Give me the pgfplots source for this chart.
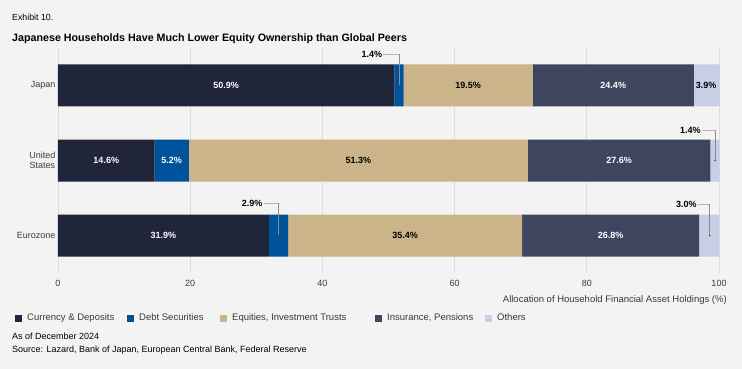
\documentclass[border=0pt]{standalone}
\usepackage{pgfplots}
\pgfplotsset{compat=1.18}
\usepackage{fontspec}
\setmainfont{Liberation Sans}
\definecolor{bg}{HTML}{F3F3F3}
\definecolor{ccurr}{HTML}{20253A}
\definecolor{cdebt}{HTML}{00529B}
\definecolor{ceq}{HTML}{CBB489}
\definecolor{cins}{HTML}{40455F}
\definecolor{coth}{HTML}{C8CEE6}
\definecolor{gridgray}{HTML}{DCDCDC}
\definecolor{txtgray}{HTML}{3A3A3A}
\definecolor{leadgray}{HTML}{B5B5B5}
\begin{document}
\begin{tikzpicture}[x=1pt,y=1pt,
  lw/.style={text=white, font=\fontsize{9}{10}\selectfont\bfseries},
  lb/.style={text=black, font=\fontsize{9}{10}\selectfont\bfseries},
  lc/.style={text=black, font=\fontsize{9}{10}\selectfont\bfseries, anchor=east, inner sep=1pt}]
\fill[bg] (0,0) rectangle (742,369);
\node[anchor=west, inner sep=0pt, font=\fontsize{8.8}{10}\selectfont] at (12,351.5) {Exhibit 10.};
\node[anchor=west, inner sep=0pt, font=\fontsize{10.7}{12}\selectfont\bfseries] at (12,330.5) {Japanese Households Have Much Lower Equity Ownership than Global Peers};
\begin{axis}[
  at={(58pt,96pt)}, anchor=south west, scale only axis,
  width=661pt, height=225pt,
  xbar stacked, bar width=42pt,
  xmin=0, xmax=100, ymin=-0.5, ymax=2.5, y dir=reverse,
  clip=false,
  ytick={0,1,2}, yticklabels={Japan,{United\\States},Eurozone},
  yticklabel style={align=center, font=\fontsize{9}{10.5}\selectfont, text=txtgray, xshift=1pt},
  xtick={0,20,40,60,80,100},
  xticklabel style={font=\fontsize{9}{10}\selectfont, text=txtgray, yshift=-4pt},
  /pgf/number format/assume math mode=true,
  xmajorgrids, major grid style={gridgray, line width=0.8pt},
  axis line style={draw=none}, major tick style={draw=none},
  legend style={at={(axis description cs:-0.0696,-0.2)}, anchor=west, draw=none, fill=none,
    legend columns=-1, font=\fontsize{9.5}{11}\selectfont, text=txtgray,
    /tikz/every even column/.append style={column sep=0pt},
    /tikz/every odd column/.append style={column sep=3pt}},
  legend image code/.code={\fill[#1] (0pt,-3.5pt) rectangle (7pt,3.5pt);},
]
\addplot[fill=ccurr, draw=none] coordinates {(50.9,0) (14.6,1) (31.9,2)};
\addlegendentry{\makebox[98pt][l]{Currency \& Deposits}}
\addplot[fill=cdebt, draw=none] coordinates {(1.4,0) (5.2,1) (2.9,2)};
\addlegendentry{\makebox[79pt][l]{Debt Securities}}
\addplot[fill=ceq, draw=none] coordinates {(19.5,0) (51.3,1) (35.4,2)};
\addlegendentry{\makebox[141pt][l]{Equities, Investment Trusts}}
\addplot[fill=cins, draw=none] coordinates {(24.4,0) (27.6,1) (26.8,2)};
\addlegendentry{\makebox[96pt][l]{Insurance, Pensions}}
\addplot[fill=coth, draw=none] coordinates {(3.9,0) (1.4,1) (3.0,2)};
\addlegendentry{Others}
% label anchors
\coordinate (a1) at (axis cs:25.45,0);
\coordinate (a2) at (axis cs:62.05,0);
\coordinate (a3) at (axis cs:84.0,0);
\coordinate (a4) at (axis cs:98.05,0);
\coordinate (b1) at (axis cs:7.3,1);
\coordinate (b2) at (axis cs:17.2,1);
\coordinate (b3) at (axis cs:45.45,1);
\coordinate (b4) at (axis cs:84.9,1);
\coordinate (c1) at (axis cs:15.95,2);
\coordinate (c3) at (axis cs:52.5,2);
\coordinate (c4) at (axis cs:83.6,2);
% callout anchors
\coordinate (p1) at (axis cs:49.2,-0.42);
\coordinate (q1) at (axis cs:51.6,-0.42);
\coordinate (r1) at (axis cs:51.6,0);
\coordinate (p2) at (axis cs:97.4,0.6);
\coordinate (q2) at (axis cs:99.4,0.6);
\coordinate (r2) at (axis cs:99.4,1);
\coordinate (p3) at (axis cs:31.1,1.567);
\coordinate (q3) at (axis cs:33.35,1.567);
\coordinate (r3) at (axis cs:33.35,2);
\coordinate (p4) at (axis cs:96.8,1.58);
\coordinate (q4) at (axis cs:98.6,1.58);
\coordinate (r4) at (axis cs:98.6,2);
\end{axis}
\node[lw] at (a1) {50.9\%};
\node[lb] at (a2) {19.5\%};
\node[lw] at (a3) {24.4\%};
\node[lb] at (a4) {3.9\%};
\node[lw] at (b1) {14.6\%};
\node[lw] at (b2) {5.2\%};
\node[lb] at (b3) {51.3\%};
\node[lw] at (b4) {27.6\%};
\node[lw] at (c1) {31.9\%};
\node[lb] at (c3) {35.4\%};
\node[lw] at (c4) {26.8\%};
\foreach \i/\t in {1/1.4,2/1.4,3/2.9,4/3.0}{
  \draw[leadgray, line width=0.8pt] (p\i) -- (q\i);
  \draw[black!45, line width=0.8pt] (q\i) -- (r\i);
  \fill[black!70] (r\i) circle (0.9pt);
  \node[lc] at (p\i) {\t\%};
}
\node[anchor=east, inner sep=0pt, font=\fontsize{9.5}{11}\selectfont, text=txtgray] at (727,69) {Allocation of Household Financial Asset Holdings (\%)};
\node[anchor=west, inner sep=0pt, font=\fontsize{9}{10}\selectfont] at (12,32.5) {As of December 2024};
\node[anchor=west, inner sep=0pt, font=\fontsize{9}{10}\selectfont] at (12,18.5) {Source: Lazard, Bank of Japan, European Central Bank, Federal Reserve};
\end{tikzpicture}
\end{document}
